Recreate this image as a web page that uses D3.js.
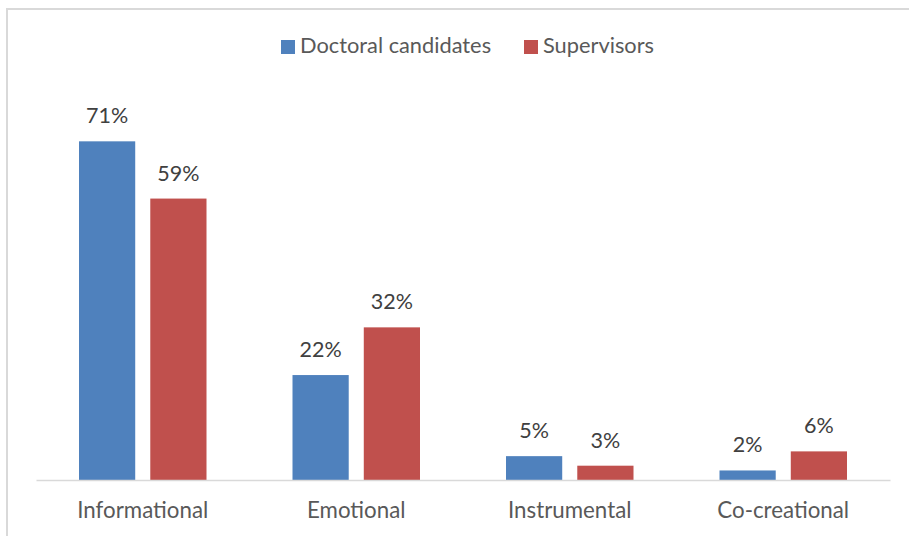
<!DOCTYPE html>
<html>
<head>
<meta charset="utf-8">
<script src="https://cdn.jsdelivr.net/npm/d3@7"></script>
<style>
  html, body { margin: 0; padding: 0; background: #fff; }
  svg { display: block; font-family: Lato, "Open Sans", sans-serif; }
</style>
</head>
<body>
<svg id="chart" width="909" height="536"></svg>
<script>
const categories = ["Informational", "Emotional", "Instrumental", "Co-creational"];
const seriesNames = ["Doctoral candidates", "Supervisors"];
const doctoralValues = [0.71, 0.22, 0.05, 0.02];
const supervisorValues = [0.59, 0.32, 0.03, 0.06];
const seriesColors = ["#4F81BD", "#C0504D"];

const svg = d3.select("#chart");
const W = 909, H = 536;

// chart border (top and left visible)
svg.append("rect")
  .attr("x", 7).attr("y", 9)
  .attr("width", W + 10).attr("height", H + 10)
  .attr("fill", "none").attr("stroke", "#D9D9D9").attr("stroke-width", 2);

const plotLeft = 36, plotRight = 890, baseY = 480;

const x0 = d3.scaleBand().domain(categories).range([plotLeft, plotRight]).paddingInner(0).paddingOuter(0);
const x1 = d3.scaleBand().domain(seriesNames).range([43, x0.bandwidth() - 43]).paddingInner(15 / 127 * 2 / (1 + 15/127)).paddingOuter(0);
const y = d3.scaleLinear().domain([0, 0.8]).range([baseY, baseY - 0.8 * 477]);

const data = categories.map((c, i) => ({
  cat: c,
  vals: [
    { s: seriesNames[0], v: doctoralValues[i], color: seriesColors[0] },
    { s: seriesNames[1], v: supervisorValues[i], color: seriesColors[1] }
  ]
}));

const groups = svg.append("g").selectAll("g").data(data).join("g")
  .attr("transform", d => `translate(${x0(d.cat)},0)`);

groups.selectAll("rect").data(d => d.vals).join("rect")
  .attr("x", d => x1(d.s))
  .attr("width", x1.bandwidth())
  .attr("y", d => y(d.v))
  .attr("height", d => baseY - y(d.v))
  .attr("fill", d => d.color);

groups.selectAll("text.val").data(d => d.vals).join("text")
  .attr("class", "val")
  .attr("x", d => x1(d.s) + x1.bandwidth() / 2)
  .attr("y", d => y(d.v) - 18)
  .attr("text-anchor", "middle")
  .attr("font-size", 21.5)
  .attr("fill", "#404040")
  .text(d => d3.format(".0%")(d.v));

// axis baseline + category labels
const xAxis = d3.axisBottom(x0).tickSize(0).tickPadding(0);
const ax = svg.append("g").attr("transform", `translate(0,${baseY})`).call(xAxis);
ax.select(".domain").attr("stroke", "#D9D9D9").attr("stroke-width", 1.5);
ax.selectAll(".tick text")
  .attr("font-family", "Lato, 'Open Sans', sans-serif")
  .attr("font-size", 22.3)
  .attr("fill", "#595959")
  .attr("dy", 0)
  .attr("y", 38);

// legend
const legendItems = [
  { name: seriesNames[0], color: seriesColors[0], x: 281 },
  { name: seriesNames[1], color: seriesColors[1], x: 524 }
];
const lg = svg.append("g").selectAll("g").data(legendItems).join("g")
  .attr("transform", d => `translate(${d.x},40)`);
lg.append("rect").attr("width", 14).attr("height", 14).attr("fill", d => d.color);
lg.append("text").attr("x", 19).attr("y", 13)
  .attr("font-size", 21.8).attr("fill", "#595959")
  .text(d => d.name);
</script>
</body>
</html>
